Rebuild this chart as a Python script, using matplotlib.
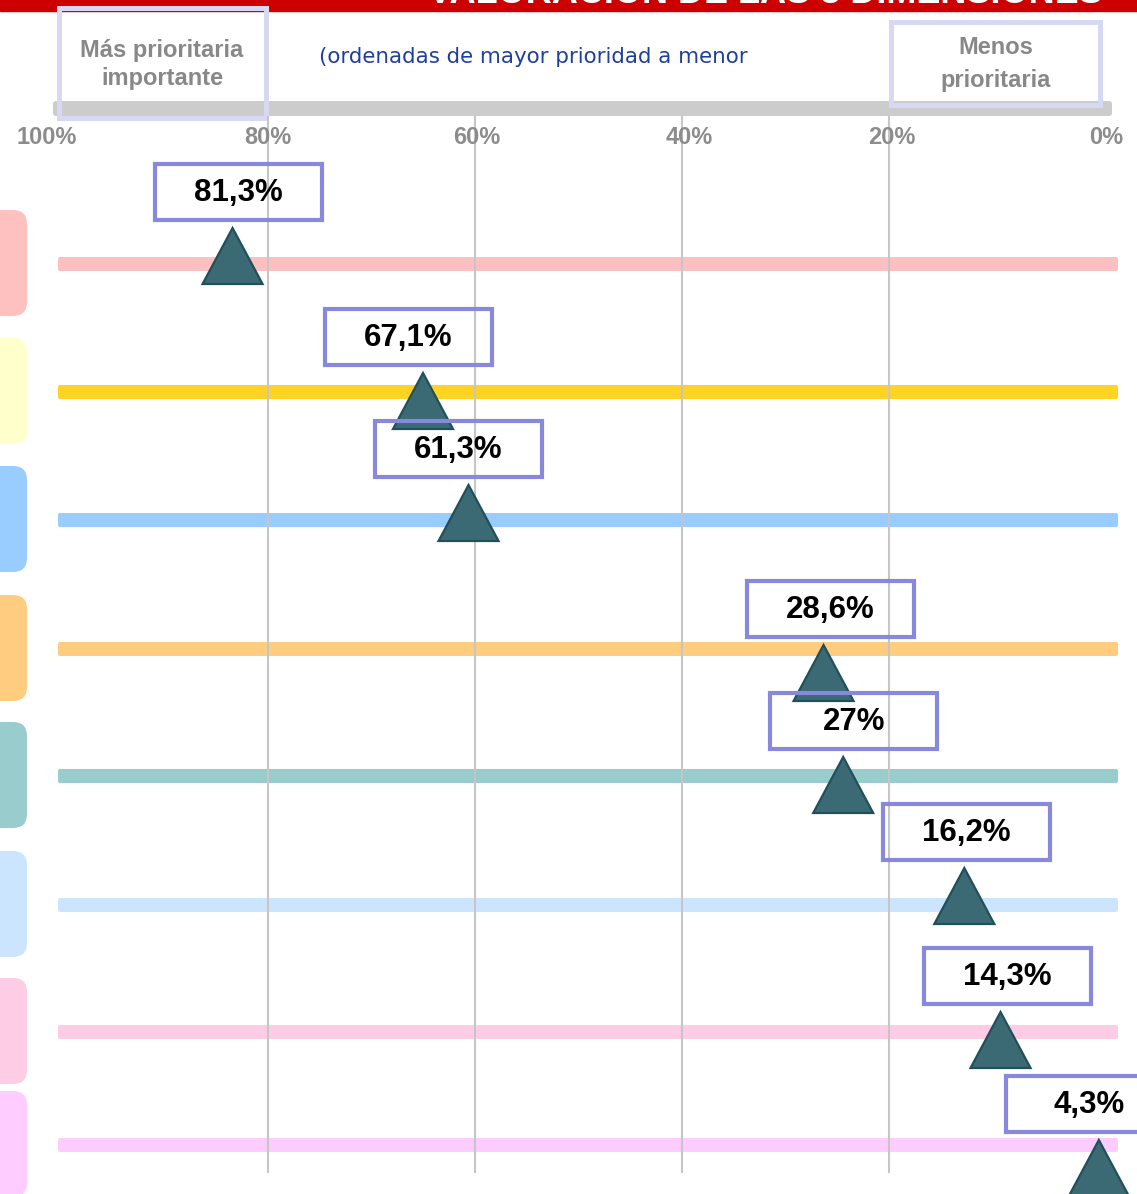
import matplotlib
matplotlib.use('Agg')

import matplotlib.pyplot as plt
from matplotlib.patches import Rectangle, FancyBboxPatch, Polygon

plt.rcParams['font.family'] = ['Liberation Sans', 'DejaVu Sans']

# valores de cada dimension (etiqueta de la caja)
valores = [81.3, 67.1, 61.3, 28.6, 27.0, 16.2, 14.3, 4.3]
etiquetas = ['81,3%', '67,1%', '61,3%', '28,6%', '27%', '16,2%', '14,3%', '4,3%']
# donde cae el triangulo sobre la escala en la imagen original
posicion = [83.4, 65.0, 60.6, 26.3, 24.4, 12.7, 9.2, -0.3]

colores_barra = ['#FDC0C0', '#FFD324', '#99CCFF', '#FFCC80',
                 '#99CCCC', '#CCE5FF', '#FFCCE5', '#FFCCFF']
colores_pestana = ['#FFC0C0', '#FFFFCC', '#99CCFF', '#FFCC80',
                   '#99CCCC', '#CCE5FF', '#FFCCE5', '#FFCCFF']

ticks = [100, 80, 60, 40, 20, 0]
tick_labels = ['100%', '80%', '60%', '40%', '20%', '0%']
rejilla = [80, 60, 40, 20]

titulo = 'VALORACIÓN DE LAS 8 DIMENSIONES'
subtitulo = '(ordenadas de mayor prioridad a menor'

# layout (pixeles)
fila_y = [264, 392, 520, 649, 776, 905, 1032, 1145]
punta = [-36, -19, -35, -4, -19, -37, -20, -5]
caja_dx = [5.5, -14.5, -10.5, 6.5, 10.5, 2.5, 6.5, -9.5]
tick_dx = [-14, 0, 2, 7, 3, 10]

PX = 10.35  # pixeles por punto porcentual


def pct(px):
    return 50 - (px - 578.25) / PX


fig = plt.figure(figsize=(11.37, 11.94), dpi=100)
ax = fig.add_axes([0, 0, 1, 1])
ax.set_xlim(pct(0), pct(1137))
ax.set_ylim(1194, 0)
ax.axis('off')

# franja roja del titulo (cortada arriba)
ax.add_patch(Rectangle((pct(1137), 0), pct(0) - pct(1137), 10.5,
                       color='#CC0000', zorder=1))
ax.text(pct(765), 3, titulo, color='white', fontsize=26, fontweight='bold',
        ha='center', va='baseline', zorder=2)

# barra gris de la escala
ax.add_patch(FancyBboxPatch((pct(1112), 101), pct(53) - pct(1112), 15,
                            boxstyle='round,pad=0,rounding_size=%f' % (3 / PX),
                            mutation_aspect=PX, color='#CCCCCC', lw=0, zorder=2))

# cajas de cabecera
ax.add_patch(Rectangle((pct(266), 8), pct(59) - pct(266), 110, fill=False,
                       ec='#D7D8F3', lw=3.6, zorder=3))
ax.add_patch(Rectangle((pct(1100), 22), pct(891) - pct(1100), 83, fill=False,
                       ec='#D7D8F3', lw=3.6, zorder=3))
ax.text(pct(162), 51, 'Más prioritaria', color='#888888', fontsize=17,
        fontweight='bold', ha='center', va='center', zorder=4)
ax.text(pct(162), 79, 'importante', color='#888888', fontsize=17,
        fontweight='bold', ha='center', va='center', zorder=4)
ax.text(pct(996), 48, 'Menos', color='#888888', fontsize=17,
        fontweight='bold', ha='center', va='center', zorder=4)
ax.text(pct(996), 80, 'prioritaria', color='#888888', fontsize=17,
        fontweight='bold', ha='center', va='center', zorder=4)
ax.text(pct(533), 57, subtitulo, color='#1F3F9E', fontsize=15.4,
        family=['DejaVu Sans'], ha='center', va='center', zorder=4)

# etiquetas de la escala
for t, lab, dx in zip(ticks, tick_labels, tick_dx):
    ax.text(t - dx / PX, 138, lab, color='#8C8C8C', fontsize=17,
            fontweight='bold', ha='center', va='center', zorder=4)

# pestañas de color a la izquierda
for y, c in zip(fila_y, colores_pestana):
    ax.add_patch(FancyBboxPatch((pct(27), y - 54), pct(-40) - pct(27), 106,
                                boxstyle='round,pad=0,rounding_size=%f' % (14 / PX),
                                mutation_aspect=PX, color=c, lw=0, zorder=2))

# barras horizontales
for y, c in zip(fila_y, colores_barra):
    ax.add_patch(FancyBboxPatch((pct(1118), y - 7), pct(58) - pct(1118), 14,
                                boxstyle='round,pad=0,rounding_size=%f' % (2 / PX),
                                mutation_aspect=PX, color=c, lw=0, zorder=2))

# rejilla vertical
ax.vlines(rejilla, 116, 1173, colors='#C6C6C6', lw=1.5, zorder=3)

# triangulos y cajas de valores
w_tri = 30 / PX
for i in range(len(valores)):
    p = posicion[i]
    top = fila_y[i] + punta[i]
    tri = Polygon([(p, top), (p - w_tri, top + 56), (p + w_tri, top + 56)],
                  closed=True, fc='#3B6A74', ec='#21505B', lw=1.6, zorder=5)
    ax.add_patch(tri)

    cx = p - caja_dx[i] / PX
    cy = top - 6 - 30
    ax.add_patch(Rectangle((cx - 83.5 / PX, cy - 28), 167 / PX, 56, fill=False,
                           ec='#8888DD', lw=3, zorder=6))
    ax.text(cx, cy + 1, etiquetas[i], color='black', fontsize=22.5,
            fontweight='bold', ha='center', va='center', zorder=7)

plt.savefig('out.png', dpi=100)
